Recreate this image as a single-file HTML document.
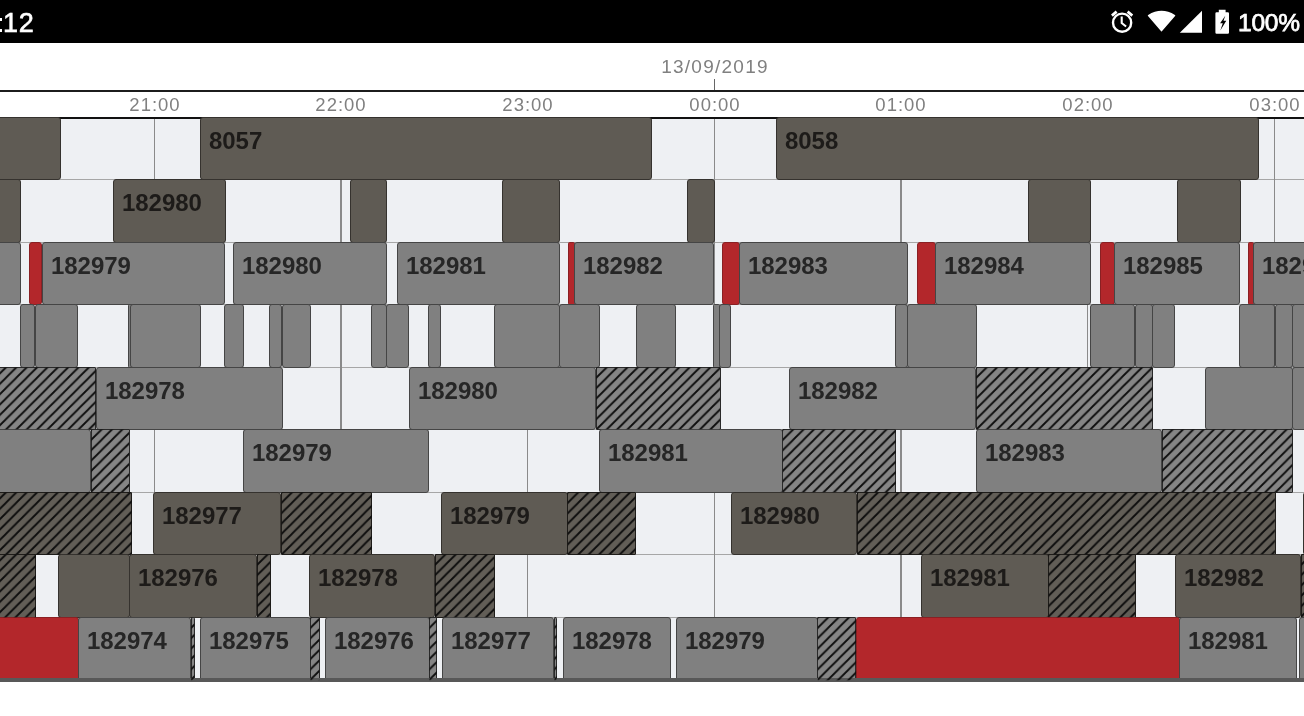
<!DOCTYPE html>
<html><head><meta charset="utf-8"><title>Gantt</title><style>
*{margin:0;padding:0;box-sizing:border-box}
html,body{width:1304px;height:716px;overflow:hidden;background:#fff}
body{font-family:"Liberation Sans",sans-serif;position:relative}
#sb{position:absolute;left:0;top:0;width:1304px;height:43px;background:#000}
#clk,#pct,#date,.t,.b{will-change:transform}
#clk{position:absolute;right:1269.5px;top:6.5px;font-size:27px;line-height:32px;color:#fff;white-space:nowrap;letter-spacing:0.8px;-webkit-text-stroke:0.6px #fff}
.cd{position:absolute;left:-1px;width:3.4px;height:3.2px;background:#fff}
#pct{position:absolute;left:1237.5px;top:7.7px;font-size:24.5px;line-height:30px;color:#fff;white-space:nowrap;letter-spacing:-0.2px;-webkit-text-stroke:0.75px #fff}
#date{position:absolute;left:615px;width:200px;top:54.5px;text-align:center;font-size:19px;line-height:24px;color:#808080;letter-spacing:1.25px;white-space:nowrap}
#tick{position:absolute;left:714px;top:78.5px;width:1.2px;height:12px;background:#666}
#hl{position:absolute;left:0;top:90px;width:1304px;height:2px;background:#1c1c1c}
.t{position:absolute;top:93px;width:100px;margin-left:-50px;text-align:center;font-size:18.5px;line-height:24px;color:#808080;letter-spacing:1px;white-space:nowrap}
#ch{position:absolute;left:0;top:117px;width:1304px;height:563px;background:#eef0f3;overflow:hidden;border-top:2px solid #111}
#bl{position:absolute;left:0;top:678.4px;width:1304px;height:3.2px;background:#585858}
.v{position:absolute;top:119px;height:561px;width:1.7px;background:#8a8a8a}
.h{position:absolute;left:0;width:1304px;height:1px;background:#a6a6a6}
.b{position:absolute;border:1px solid #000;border-radius:3px;overflow:hidden;font-weight:bold;font-size:24px;line-height:28px;letter-spacing:-0.05px;white-space:nowrap}
.L{padding:8.5px 0 0 8px}
.D{background-color:#5f5b54;border-color:#35322e;color:#1d1b19}
.G{background-color:#808080;border-color:#454545;color:#262626}
.R{background-color:#b3272b;border-color:#8a2023}
.H{border-radius:1px}
.D.H{background-color:#625e57;border-color:#1f1d1a}
.G.H{background-color:#858585;border-color:#2a2a2a}
#hs{position:absolute;left:0;top:0}
</style></head><body>
<div id="sb"><div id="clk">12</div><div class="cd" style="top:18px"></div><div class="cd" style="top:28.8px"></div>
<svg id="ic" style="position:absolute;left:1100px;top:0" width="140" height="43" viewBox="1100 0 140 43">
<g fill="none" stroke="#fff" stroke-width="2.4" stroke-linecap="butt">
<circle cx="1122.1" cy="22.7" r="9.1"/>
<path d="M1121.7 16.4v6.7l4.4 3.4" stroke-width="2.1"/>
<path d="M1111.9 15.6l4.7-4M1132.3 15.6l-4.7-4" stroke-width="2.7"/>
</g>
<path fill="#fff" stroke="#fff" stroke-width="1.6" stroke-linejoin="round" d="M1161.5 30.6 L1148.6 15.6 Q1161.5 7.6 1174.5 15.6 Z"/>
<path fill="#fff" d="M1179.8 32.8 H1202 V10.8 Z"/>
<path fill="#fff" d="M1218.8 9.7h6.8v2.6h2.2q1.2 0 1.2 1.2v19q0 1.2-1.2 1.2h-11.2q-1.2 0-1.2-1.2v-19q0-1.2 1.2-1.2h2.2z"/>
<path fill="#000" d="M1225.3 15.8 L1220.1 23.3 H1222.8 L1220.3 30.6 L1226.3 20.7 H1223.5 Z"/>
</svg>
<div id="pct">100%</div></div>
<div id="date">13/09/2019</div><div id="tick"></div><div id="hl"></div>
<div class="t" style="left:154.7px">21:00</div>
<div class="t" style="left:341.4px">22:00</div>
<div class="t" style="left:528.0px">23:00</div>
<div class="t" style="left:714.7px">00:00</div>
<div class="t" style="left:901.4px">01:00</div>
<div class="t" style="left:1088.0px">02:00</div>
<div class="t" style="left:1274.7px">03:00</div>
<div id="ch"></div>
<div class="h" style="top:178.5px"></div>
<div class="h" style="top:241.5px"></div>
<div class="h" style="top:303.5px"></div>
<div class="h" style="top:366.5px"></div>
<div class="h" style="top:428.5px"></div>
<div class="h" style="top:491.5px"></div>
<div class="h" style="top:553.5px"></div>
<div class="h" style="top:616.5px"></div>
<div class="v" style="left:153.5px"></div>
<div class="v" style="left:340.2px"></div>
<div class="v" style="left:526.8px"></div>
<div class="v" style="left:713.5px"></div>
<div class="v" style="left:900.2px"></div>
<div class="v" style="left:1086.8px"></div>
<div class="v" style="left:1273.5px"></div>
<div class="b D" style="left:-5.0px;top:117px;width:66.3px;height:62.8px"></div>
<div class="b D L" style="left:200.0px;top:117px;width:452.3px;height:62.8px">8057</div>
<div class="b D L" style="left:775.7px;top:117px;width:482.9px;height:62.8px">8058</div>
<div class="b D" style="left:-5.0px;top:179px;width:25.6px;height:63.8px"></div>
<div class="b D L" style="left:112.7px;top:179px;width:112.9px;height:63.8px">182980</div>
<div class="b D" style="left:350.0px;top:179px;width:37.3px;height:63.8px"></div>
<div class="b D" style="left:502.3px;top:179px;width:58.3px;height:63.8px"></div>
<div class="b D" style="left:687.3px;top:179px;width:27.6px;height:63.8px"></div>
<div class="b D" style="left:1028.3px;top:179px;width:63.0px;height:63.8px"></div>
<div class="b D" style="left:1176.7px;top:179px;width:63.6px;height:63.8px"></div>
<div class="b G" style="left:-5.0px;top:242px;width:25.6px;height:62.8px"></div>
<div class="b R" style="left:29.3px;top:242px;width:13.0px;height:62.8px"></div>
<div class="b G L" style="left:41.7px;top:242px;width:182.9px;height:62.8px">182979</div>
<div class="b G L" style="left:233.3px;top:242px;width:154.0px;height:62.8px">182980</div>
<div class="b G L" style="left:396.7px;top:242px;width:163.2px;height:62.8px">182981</div>
<div class="b R" style="left:568.3px;top:242px;width:6.6px;height:62.8px;border-radius:1.5px"></div>
<div class="b G L" style="left:574.3px;top:242px;width:139.6px;height:62.8px">182982</div>
<div class="b R" style="left:722.3px;top:242px;width:17.6px;height:62.8px"></div>
<div class="b G L" style="left:739.3px;top:242px;width:169.3px;height:62.8px">182983</div>
<div class="b R" style="left:916.7px;top:242px;width:18.6px;height:62.8px"></div>
<div class="b G L" style="left:934.7px;top:242px;width:155.9px;height:62.8px">182984</div>
<div class="b R" style="left:1100.0px;top:242px;width:14.6px;height:62.8px"></div>
<div class="b G L" style="left:1114.0px;top:242px;width:126.3px;height:62.8px">182985</div>
<div class="b R" style="left:1248.3px;top:242px;width:5.6px;height:62.8px;border-radius:1.5px"></div>
<div class="b G L" style="left:1253.3px;top:242px;width:67.3px;height:62.8px">182986</div>
<div class="b G" style="left:20.0px;top:304px;width:15.3px;height:63.8px"></div>
<div class="b G" style="left:34.7px;top:304px;width:43.2px;height:63.8px"></div>
<div class="b G" style="left:128.3px;top:304px;width:3.6px;height:63.8px;border-radius:1.5px"></div>
<div class="b G" style="left:130.0px;top:304px;width:71.3px;height:63.8px"></div>
<div class="b G" style="left:224.0px;top:304px;width:19.9px;height:63.8px"></div>
<div class="b G" style="left:269.3px;top:304px;width:13.0px;height:63.8px"></div>
<div class="b G" style="left:281.7px;top:304px;width:28.9px;height:63.8px"></div>
<div class="b G" style="left:370.7px;top:304px;width:15.9px;height:63.8px"></div>
<div class="b G" style="left:386.0px;top:304px;width:22.9px;height:63.8px"></div>
<div class="b G" style="left:428.3px;top:304px;width:13.3px;height:63.8px"></div>
<div class="b G" style="left:494.0px;top:304px;width:65.9px;height:63.8px"></div>
<div class="b G" style="left:559.3px;top:304px;width:40.6px;height:63.8px"></div>
<div class="b G" style="left:635.7px;top:304px;width:39.9px;height:63.8px"></div>
<div class="b G" style="left:712.7px;top:304px;width:7.2px;height:63.8px;border-radius:1.5px"></div>
<div class="b G" style="left:719.3px;top:304px;width:12.3px;height:63.8px"></div>
<div class="b G" style="left:895.0px;top:304px;width:12.9px;height:63.8px"></div>
<div class="b G" style="left:907.3px;top:304px;width:69.6px;height:63.8px"></div>
<div class="b G" style="left:1090.0px;top:304px;width:45.3px;height:63.8px"></div>
<div class="b G" style="left:1134.7px;top:304px;width:18.2px;height:63.8px"></div>
<div class="b G" style="left:1152.3px;top:304px;width:23.3px;height:63.8px"></div>
<div class="b G" style="left:1239.0px;top:304px;width:36.3px;height:63.8px"></div>
<div class="b G" style="left:1274.7px;top:304px;width:17.6px;height:63.8px"></div>
<div class="b G" style="left:1291.7px;top:304px;width:28.9px;height:63.8px"></div>
<div class="b G H" style="left:-5.0px;top:367px;width:101.3px;height:62.8px"></div>
<div class="b G L" style="left:95.7px;top:367px;width:187.2px;height:62.8px">182978</div>
<div class="b G L" style="left:409.0px;top:367px;width:187.3px;height:62.8px">182980</div>
<div class="b G H" style="left:595.7px;top:367px;width:124.9px;height:62.8px"></div>
<div class="b G L" style="left:789.3px;top:367px;width:187.0px;height:62.8px">182982</div>
<div class="b G H" style="left:975.7px;top:367px;width:177.2px;height:62.8px"></div>
<div class="b G" style="left:1204.7px;top:367px;width:88.2px;height:62.8px"></div>
<div class="b G" style="left:1292.3px;top:367px;width:28.3px;height:62.8px"></div>
<div class="b G" style="left:-5.0px;top:429px;width:96.3px;height:63.8px"></div>
<div class="b G H" style="left:90.7px;top:429px;width:38.9px;height:63.8px"></div>
<div class="b G L" style="left:243.3px;top:429px;width:185.6px;height:63.8px">182979</div>
<div class="b G L" style="left:599.0px;top:429px;width:183.9px;height:63.8px">182981</div>
<div class="b G H" style="left:782.3px;top:429px;width:114.0px;height:63.8px"></div>
<div class="b G L" style="left:976.3px;top:429px;width:186.0px;height:63.8px">182983</div>
<div class="b G H" style="left:1161.7px;top:429px;width:131.2px;height:63.8px"></div>
<div class="b D H" style="left:-5.0px;top:492px;width:137.3px;height:62.8px"></div>
<div class="b D L" style="left:153.3px;top:492px;width:128.3px;height:62.8px">182977</div>
<div class="b D H" style="left:281.0px;top:492px;width:91.3px;height:62.8px"></div>
<div class="b D L" style="left:441.0px;top:492px;width:126.9px;height:62.8px">182979</div>
<div class="b D H" style="left:567.3px;top:492px;width:69.0px;height:62.8px"></div>
<div class="b D L" style="left:731.0px;top:492px;width:126.3px;height:62.8px">182980</div>
<div class="b D H" style="left:856.7px;top:492px;width:418.6px;height:62.8px"></div>
<div class="b D" style="left:1302.5px;top:492px;width:18.1px;height:62.8px"></div>
<div class="b D H" style="left:-5.0px;top:554px;width:41.3px;height:63.8px"></div>
<div class="b D" style="left:57.7px;top:554px;width:71.9px;height:63.8px"></div>
<div class="b D L" style="left:129.0px;top:554px;width:128.3px;height:63.8px">182976</div>
<div class="b D H" style="left:256.7px;top:554px;width:13.9px;height:63.8px"></div>
<div class="b D L" style="left:309.3px;top:554px;width:125.8px;height:63.8px">182978</div>
<div class="b D H" style="left:434.5px;top:554px;width:60.1px;height:63.8px"></div>
<div class="b D L" style="left:920.7px;top:554px;width:127.9px;height:63.8px">182981</div>
<div class="b D H" style="left:1048.0px;top:554px;width:87.6px;height:63.8px"></div>
<div class="b D L" style="left:1175.0px;top:554px;width:126.3px;height:63.8px">182982</div>
<div class="b D H" style="left:1300.7px;top:554px;width:19.9px;height:63.8px"></div>
<div class="b R" style="left:-5.0px;top:617px;width:83.6px;height:63.8px"></div>
<div class="b G L" style="left:78.0px;top:617px;width:113.3px;height:63.8px">182974</div>
<div class="b G H" style="left:190.7px;top:617px;width:4.2px;height:63.8px;border-radius:1.5px"></div>
<div class="b G L" style="left:200.0px;top:617px;width:110.6px;height:63.8px">182975</div>
<div class="b G H" style="left:310.0px;top:617px;width:9.9px;height:63.8px"></div>
<div class="b G L" style="left:325.0px;top:617px;width:104.6px;height:63.8px">182976</div>
<div class="b G H" style="left:429.0px;top:617px;width:8.3px;height:63.8px"></div>
<div class="b G L" style="left:442.3px;top:617px;width:112.3px;height:63.8px">182977</div>
<div class="b G H" style="left:554.0px;top:617px;width:3.3px;height:63.8px;border-radius:1.5px"></div>
<div class="b G L" style="left:562.7px;top:617px;width:107.9px;height:63.8px">182978</div>
<div class="b G L" style="left:675.7px;top:617px;width:142.2px;height:63.8px">182979</div>
<div class="b G H" style="left:817.3px;top:617px;width:39.3px;height:63.8px"></div>
<div class="b R" style="left:856.0px;top:617px;width:323.6px;height:63.8px"></div>
<div class="b G L" style="left:1179.0px;top:617px;width:118.3px;height:63.8px">182981</div>
<div class="b G" style="left:1299.0px;top:617px;width:21.6px;height:63.8px"></div>
<div id="bl"></div>
<svg id="hs" width="1304" height="716" viewBox="0 0 1304 716"><defs><pattern id="hp" width="10.36" height="10.36" patternUnits="userSpaceOnUse"><path d="M-2 2L2 -2M-2 12.36 L12.36 -2M8.36 12.36 l4 -4" stroke="#0d0d0d" stroke-width="1.85" fill="none"/></pattern></defs><g transform="translate(-4.5,367.5)"><rect width="100.3" height="61.8" fill="url(#hp)"/></g><g transform="translate(596.2,367.5)"><rect width="123.9" height="61.8" fill="url(#hp)"/></g><g transform="translate(976.2,367.5)"><rect width="176.2" height="61.8" fill="url(#hp)"/></g><g transform="translate(91.2,429.5)"><rect width="37.9" height="62.8" fill="url(#hp)"/></g><g transform="translate(782.8,429.5)"><rect width="113.0" height="62.8" fill="url(#hp)"/></g><g transform="translate(1162.2,429.5)"><rect width="130.2" height="62.8" fill="url(#hp)"/></g><g transform="translate(-4.5,492.5)"><rect width="136.3" height="61.8" fill="url(#hp)"/></g><g transform="translate(281.5,492.5)"><rect width="90.3" height="61.8" fill="url(#hp)"/></g><g transform="translate(567.8,492.5)"><rect width="68.0" height="61.8" fill="url(#hp)"/></g><g transform="translate(857.2,492.5)"><rect width="417.6" height="61.8" fill="url(#hp)"/></g><g transform="translate(-4.5,554.5)"><rect width="40.3" height="62.8" fill="url(#hp)"/></g><g transform="translate(257.2,554.5)"><rect width="12.9" height="62.8" fill="url(#hp)"/></g><g transform="translate(435.0,554.5)"><rect width="59.1" height="62.8" fill="url(#hp)"/></g><g transform="translate(1048.5,554.5)"><rect width="86.6" height="62.8" fill="url(#hp)"/></g><g transform="translate(1301.2,554.5)"><rect width="18.9" height="62.8" fill="url(#hp)"/></g><g transform="translate(191.2,617.5)"><rect width="3.2" height="62.8" fill="url(#hp)"/></g><g transform="translate(310.5,617.5)"><rect width="8.9" height="62.8" fill="url(#hp)"/></g><g transform="translate(429.5,617.5)"><rect width="7.3" height="62.8" fill="url(#hp)"/></g><g transform="translate(554.5,617.5)"><rect width="2.3" height="62.8" fill="url(#hp)"/></g><g transform="translate(817.8,617.5)"><rect width="38.3" height="62.8" fill="url(#hp)"/></g></svg>
</body></html>
